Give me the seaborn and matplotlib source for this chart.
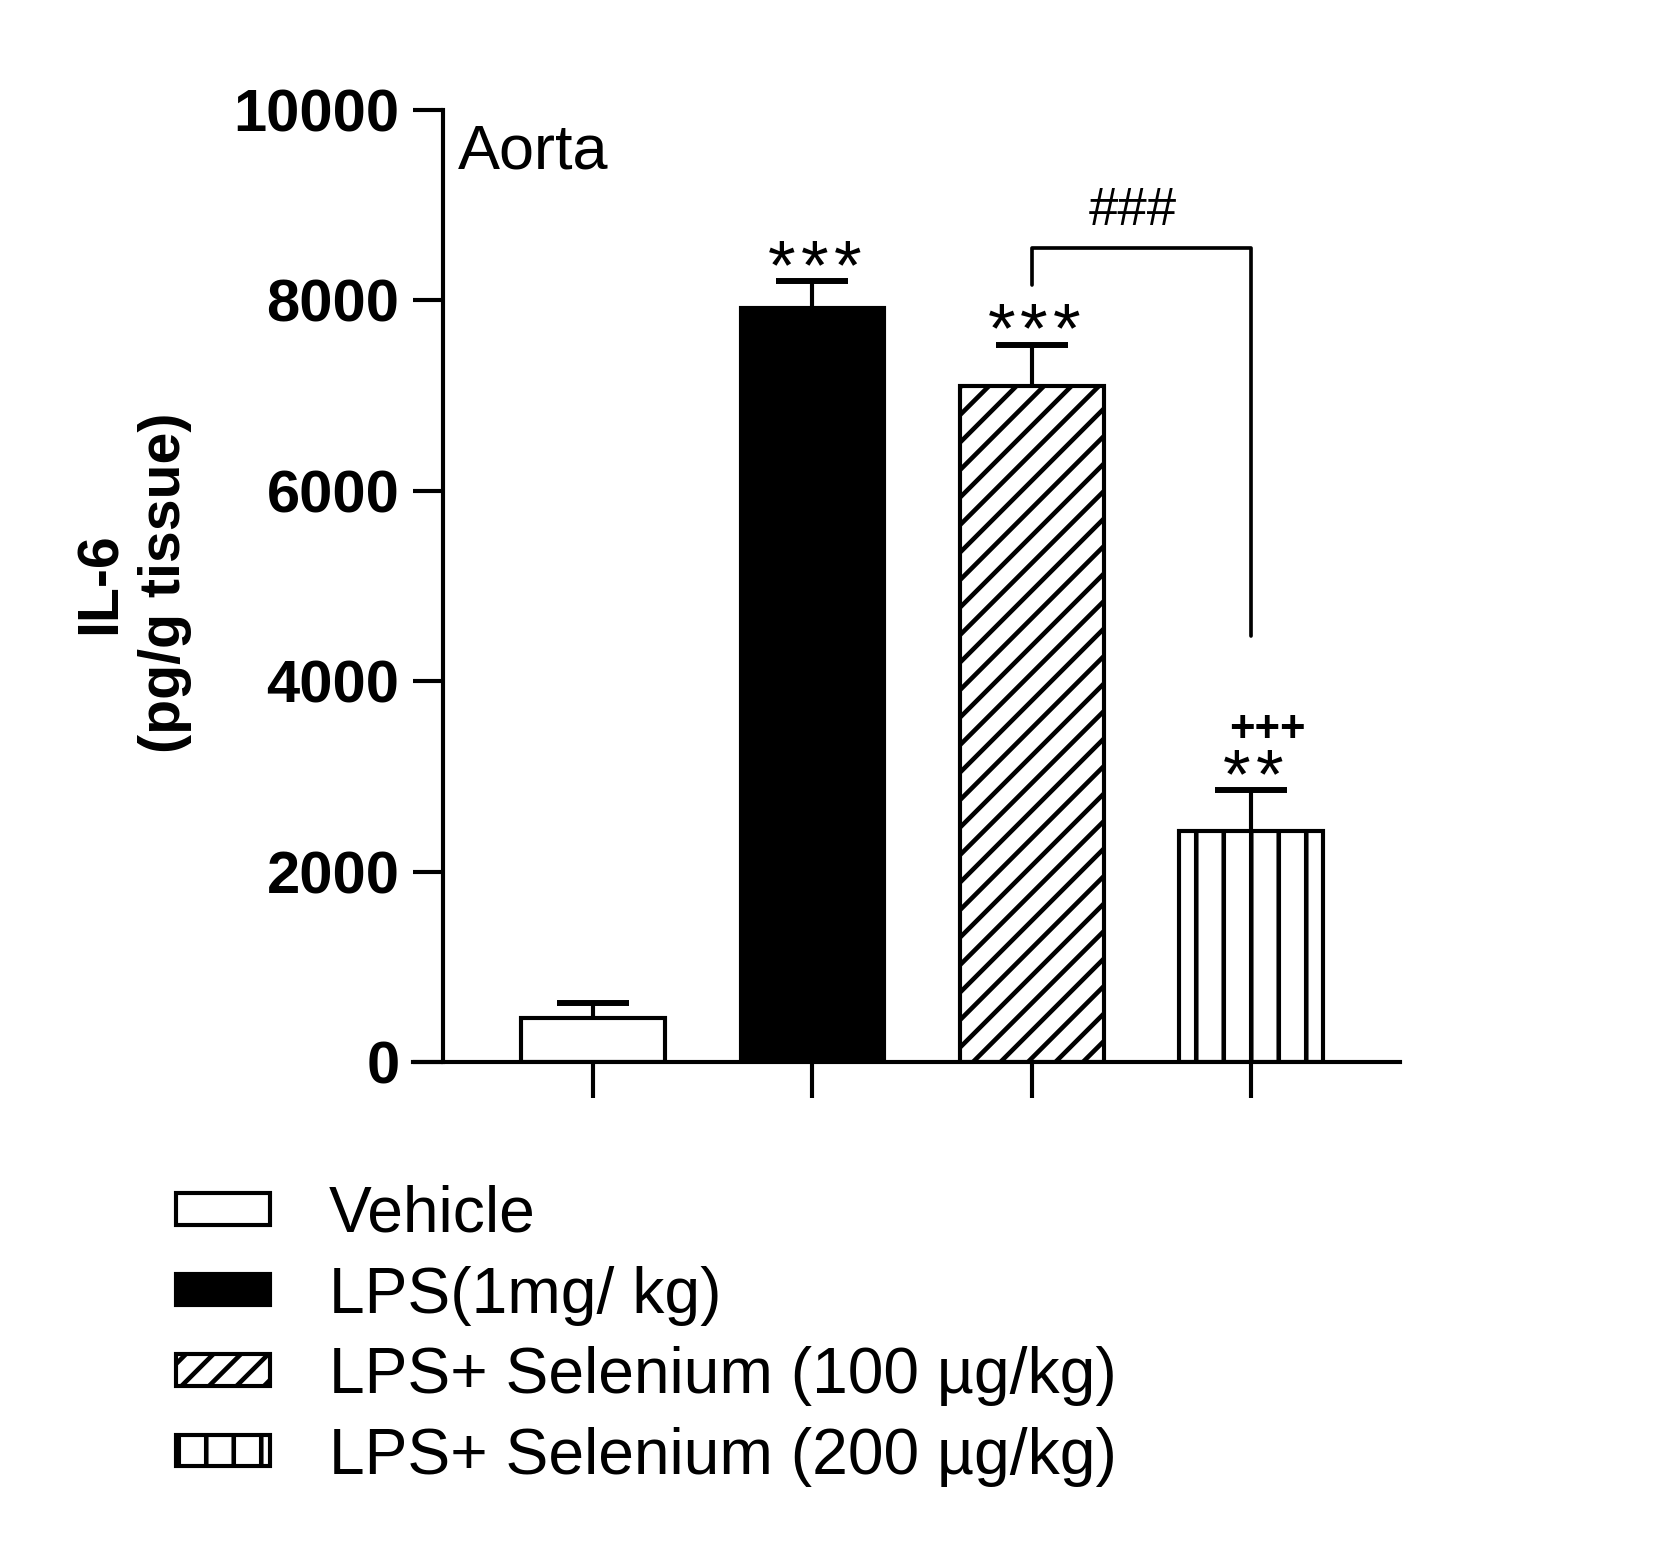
import numpy as np
import pandas as pd
import matplotlib
matplotlib.use("Agg")
import matplotlib.pyplot as plt
import seaborn as sns
from matplotlib.patches import Patch

# ---- data ----
groups = ["Vehicle", "LPS(1mg/ kg)", "LPS+ Selenium (100 µg/kg)", "LPS+ Selenium (200 µg/kg)"]
means = [460, 7920, 7100, 2430]
sems = [155, 280, 435, 425]
stars = ["", "***", "***", "**"]
plus_marks = ["", "", "", "+++"]
yticks = [0, 2000, 4000, 6000, 8000, 10000]
bracket_pair = (2, 3)
bracket_y = [8160, 8550, 4480]
bracket_label = "###"
panel_title = "Aorta"
ylabel = "IL-6\n(pg/g tissue)"

fills = ["white", "black", "white", "white"]
hatches = ["", "", "//", "|"]

sns.set_theme(style="ticks")
plt.rcParams["font.family"] = ["Liberation Sans", "DejaVu Sans"]
plt.rcParams["hatch.linewidth"] = 2.0
plt.rcParams["hatch.color"] = "black"
plt.rcParams["axes.linewidth"] = 1.8
for k in ["text.color", "axes.labelcolor", "xtick.color", "ytick.color", "axes.edgecolor"]:
    plt.rcParams[k] = "black"

DPI = 165
W, H = 1669, 1547
fig = plt.figure(figsize=(W / DPI, H / DPI), dpi=DPI)
fig.patch.set_facecolor("white")
ax = fig.add_axes([413 / W, (H - 1062) / H, 987 / W, 952 / H])
ax.set_facecolor("white")

df = pd.DataFrame({"group": groups, "value": means})
sns.barplot(data=df, x="group", y="value", hue="group", order=groups, hue_order=groups,
            palette=dict(zip(groups, fills)), edgecolor="black", linewidth=1.8,
            width=0.655, errorbar=None, legend=False, ax=ax, zorder=2)
for p, h in zip(ax.patches, hatches):
    p.set_hatch(h)
    p.set_edgecolor("black")

x = np.arange(len(groups))
eb = ax.errorbar(x, means, yerr=[np.zeros(len(groups)), sems], fmt="none", ecolor="black",
                 elinewidth=1.8, capsize=15.5, capthick=2.6, zorder=3)
caps = eb.lines[1]
if len(caps) == 2:
    caps[0].set_visible(False)

# spines first (set_position resets ticks)
ax.spines["top"].set_visible(False)
ax.spines["right"].set_visible(False)
ax.spines["left"].set_position(("axes", 0.0304))
for s in ["left", "bottom"]:
    ax.spines[s].set_color("black")
    ax.spines[s].set_linewidth(1.8)
ax.grid(False)

ax.set_xlim(-0.821, 3.679)
ax.set_ylim(0, 10000)
ax.set_xticks(x)
ax.set_xticklabels([])
ax.set_xlabel("")
ax.tick_params(axis="y", length=13, width=1.8, direction="out", pad=6, colors="black", labelsize=26)
ax.tick_params(axis="x", length=15.7, width=1.8, direction="out", colors="black")
ax.set_yticks(yticks)
ax.set_yticklabels([str(v) for v in yticks], fontsize=26, fontweight="bold")

ax.set_ylabel(ylabel, fontsize=25, fontweight="bold", linespacing=1.25)
ax.yaxis.label.set_va("center")
ax.yaxis.label.set_ha("center")
ax.yaxis.set_label_coords(-0.2837, 0.503)

ax.text(0.0456, 0.956, panel_title, transform=ax.transAxes, fontsize=27.5,
        ha="left", va="center", color="black")

# significance marks
star_step = 14.3  # points between asterisk centres
for xi, m, s, st, pl in zip(x, means, sems, stars, plus_marks):
    if st:
        k = len(st)
        for i, ch in enumerate(st):
            dx = (i - (k - 1) / 2) * star_step + 1
            ax.annotate(ch, xy=(xi, m + s), xytext=(dx, -3.5), textcoords="offset points",
                        ha="center", va="baseline", fontsize=31, color="black")
    if pl:
        ax.annotate(pl, xy=(xi, m + s), xytext=(7, 21), textcoords="offset points",
                    ha="center", va="baseline", fontsize=19, fontweight="bold", color="black")

b0, b1 = bracket_pair
ax.plot([b0, b0, b1, b1], [bracket_y[0], bracket_y[1], bracket_y[1], bracket_y[2]],
        color="black", lw=1.6, zorder=3)
ax.annotate(bracket_label, xy=((b0 + b1) / 2, bracket_y[1]), xytext=(-3.7, 10),
            textcoords="offset points", ha="center", va="baseline", fontsize=23, color="black")

handles = [Patch(facecolor=f, edgecolor="black", hatch=h, linewidth=1.8) for f, h in zip(fills, hatches)]
leg = fig.legend(handles, groups, loc="upper left", bbox_to_anchor=(176 / W, 1 - 1185 / H),
                 frameon=False, fontsize=28, handlelength=1.46, handleheight=0.38,
                 handletextpad=0.92, labelspacing=0.32, borderpad=0, borderaxespad=0)
for t in leg.get_texts():
    t.set_color("black")

fig.savefig("out.png", dpi=DPI, facecolor="white")
